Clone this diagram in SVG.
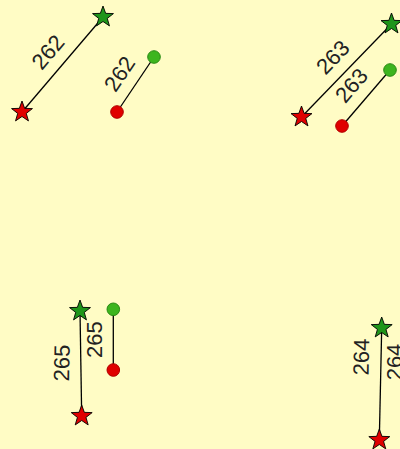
<svg xmlns="http://www.w3.org/2000/svg" width="400" height="449" viewBox="0 0 400 449">
<style>
.bg{fill:#FFFCC5}
.ln{stroke:#000;stroke-width:1.3;fill:none}
.sr{fill:#E00000;stroke:#000;stroke-width:0.9}
.sg{fill:#1F951A;stroke:#000;stroke-width:0.9}
.dr{fill:#E00000;stroke:#B00000;stroke-width:1}
.dg{fill:#3DB51E;stroke:#2A8A14;stroke-width:1}
.lb{font-family:"Liberation Sans",Arial,sans-serif;font-size:22px;fill:#222;text-anchor:middle}
</style>
<defs>
<path id="star" d="M0,-11 L2.645,-3.641 L10.462,-3.399 L4.28,1.391 L6.466,8.899 L0,4.5 L-6.466,8.899 L-4.28,1.391 L-10.462,-3.399 L-2.645,-3.641 Z"/>
<circle id="dot" r="6.3"/>
</defs>
<rect class="bg" x="0" y="0" width="400" height="449"/>
<g id="connectors">
<line class="ln" x1="22" y1="112" x2="103" y2="17"/>
<line class="ln" x1="117" y1="112" x2="154" y2="57"/>
<line class="ln" x1="301.5" y1="117" x2="391.5" y2="24"/>
<line class="ln" x1="342" y1="126" x2="390" y2="70"/>
<line class="ln" x1="80" y1="311" x2="81.7" y2="416"/>
<line class="ln" x1="113.3" y1="309.3" x2="113.3" y2="370"/>
<line class="ln" x1="381.7" y1="328" x2="379.3" y2="440"/>
</g>
<g id="n262">
<use href="#star" class="sr" x="22" y="112"/>
<use href="#star" class="sg" x="103" y="17"/>
<use href="#dot" class="dr" x="117" y="112"/>
<use href="#dot" class="dg" x="154" y="57"/>
<text class="lb" dy="0.358em" transform="translate(47.7,51.8) rotate(-49.5)">262</text>
<text class="lb" dy="0.358em" transform="translate(119.3,73.6) rotate(-56.1)">262</text>
</g>
<g id="n263">
<use href="#star" class="sr" x="301.5" y="117"/>
<use href="#star" class="sg" x="391.5" y="24"/>
<use href="#dot" class="dr" x="342" y="126"/>
<use href="#dot" class="dg" x="390" y="70"/>
<text class="lb" dy="0.358em" transform="translate(332.5,57) rotate(-45.9)">263</text>
<text class="lb" dy="0.358em" transform="translate(351.2,85.3) rotate(-49.4)">263</text>
</g>
<g id="n265">
<use href="#star" class="sg" x="80" y="311"/>
<use href="#star" class="sr" x="81.7" y="416"/>
<use href="#dot" class="dg" x="113.3" y="309.3"/>
<use href="#dot" class="dr" x="113.3" y="370"/>
<text class="lb" dy="0.358em" transform="translate(61.4,363) rotate(-89.1)">265</text>
<text class="lb" dy="0.358em" transform="translate(93.8,339.7) rotate(-90)">265</text>
</g>
<g id="n264">
<use href="#star" class="sg" x="381.7" y="328"/>
<use href="#star" class="sr" x="379.3" y="440"/>
<text class="lb" dy="0.358em" transform="translate(361,357) rotate(-89)">264</text>
<text class="lb" dy="0.358em" transform="translate(394.5,362) rotate(-90)">264</text>
</g>
</svg>
